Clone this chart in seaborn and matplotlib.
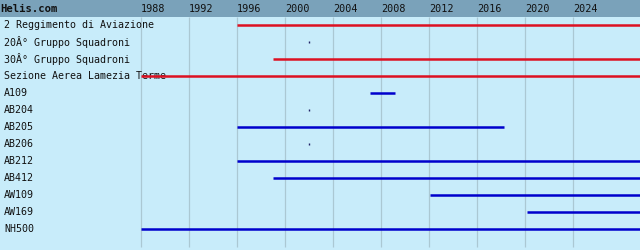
import numpy as np
import pandas as pd
import matplotlib
matplotlib.use("Agg")
import matplotlib.pyplot as plt
import matplotlib.transforms as mtransforms
import seaborn as sns

# ---- data ----
names = ["2 Reggimento di Aviazione", "20Â° Gruppo Squadroni", "30Â° Gruppo Squadroni",
         "Sezione Aerea Lamezia Terme", "A109", "AB204", "AB205", "AB206", "AB212",
         "AB412", "AW109", "AW169", "NH500"]
kinds = ["unit", "unit", "unit", "unit", "type", "type", "type", "type", "type",
         "type", "type", "type", "type"]
starts = [1996, 2002, 1999, 1988, 2007.1, 2002, 1996, 2002, 1996, 1999, 2012.1, 2020.2, 1988]
ends = [None, 2002, None, None, 2009.2, 2002, 2018.3, 2002, None, None, None, None, None]  # None = ongoing
year_ticks = [1988, 1992, 1996, 2000, 2004, 2008, 2012, 2016, 2020, 2024]
site = "Helis.com"

# ---- style ----
sns.set_style("white")
plt.rcParams["font.family"] = ["DejaVu Sans Mono"]
BG = "#C8ECFA"
HEAD = "#7AA2BA"
GRID = "#ABC8D3"
RED = "#DD1122"
BLUE = "#0000CC"

XMIN, XMAX = 1976.28, 2029.62
px = 17.0
Y_TOP = -25 / px
Y_BOT = (250 - 25) / px
HEAD_BOT = (16.5 - 25) / px

fig = plt.figure(figsize=(6.4, 2.5), dpi=100)
fig.patch.set_facecolor(BG)
ax = fig.add_axes([0, 0, 1, 1])
ax.set_facecolor(BG)
ax.set_xlim(XMIN, XMAX)
ax.set_ylim(Y_BOT, Y_TOP)
ax.axis("off")

# header band
ax.axhspan(Y_TOP, HEAD_BOT, color=HEAD, zorder=1, lw=0)
# grid lines
ax.vlines(year_ticks, HEAD_BOT, (247 - 25) / px, color=GRID, lw=0.9, zorder=2)
for y in year_ticks:
    ax.text(y + 0.05, (8.5 - 25) / px, str(y), fontsize=7.3, color="#111111",
            ha="left", va="center", zorder=3)
trans = mtransforms.blended_transform_factory(ax.transAxes, ax.transData)
ax.text(0.0, (8.5 - 25) / px, site, transform=trans,
        fontsize=7.6, fontweight="bold", color="#111111", ha="left", va="center", zorder=3)

# row labels
for i, n in enumerate(names):
    ax.text(4 / 640, i, n, transform=trans, fontsize=7.2, color="#111111",
            ha="left", va="center", zorder=2.5)

# bars as lines via seaborn
rows = []
dots = []
for i, (n, k, s, e) in enumerate(zip(names, kinds, starts, ends)):
    e2 = XMAX + 1 if e is None else e
    if e2 == s:
        dots.append(dict(name=n, kind=k, x=s, y=i))
    else:
        rows.append(dict(name=n, kind=k, x=s, y=i))
        rows.append(dict(name=n, kind=k, x=e2, y=i))
df = pd.DataFrame(rows)
sns.lineplot(data=df, x="x", y="y", units="name", estimator=None, hue="kind",
             palette={"unit": RED, "type": BLUE}, lw=1.8, legend=False, ax=ax,
             zorder=4, solid_capstyle="butt")
dd = pd.DataFrame(dots)
sns.scatterplot(data=dd, x="x", y="y", marker="|", s=4, color="#222266",
                linewidth=1, legend=False, ax=ax, zorder=4)

ax.set_xlim(XMIN, XMAX)
ax.set_ylim(Y_BOT, Y_TOP)
ax.axis("off")
fig.savefig("out.png", dpi=100, facecolor=BG)
